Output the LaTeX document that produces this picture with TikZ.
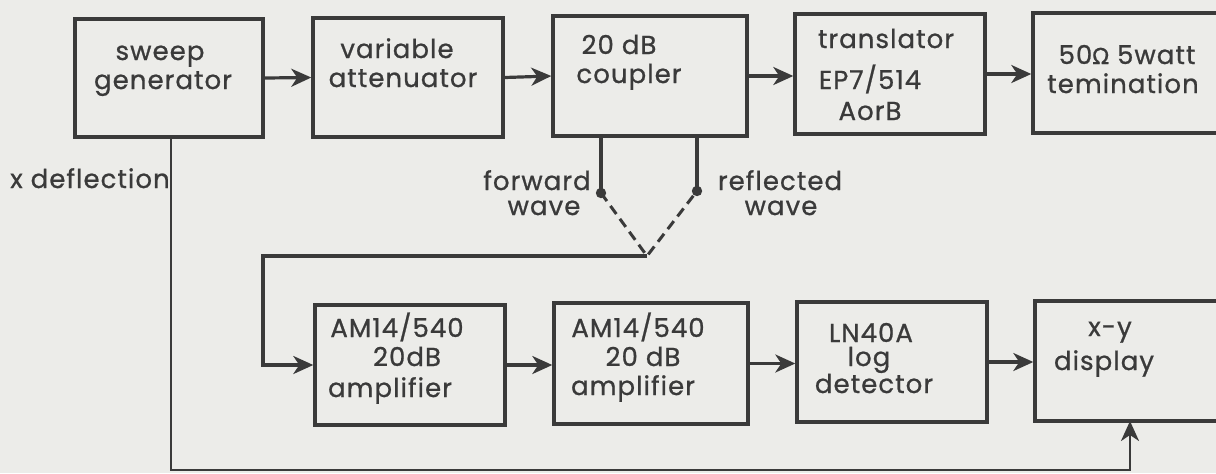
\documentclass[tikz,border=0pt]{standalone}
\usepackage{fontspec}
\setmainfont{Poppins}[LetterSpace=4.0,FakeBold=0.8]
\newfontfamily\omegafont{DejaVu Sans}[FakeBold=0.8]
\usetikzlibrary{arrows.meta}
\definecolor{paper}{RGB}{236,236,233}
\definecolor{ink}{RGB}{58,58,58}
\tikzset{
  blk/.style 2 args={draw=ink,line width=1.7pt,inner sep=0pt,minimum width=#1,minimum height=#2},
  txt/.style={anchor=base,inner sep=0pt,text=ink,font=\fontsize{13}{15}\selectfont},
  conn/.style={draw=ink,line width=1.6pt,-{Stealth[length=10pt,width=9pt,inset=3pt]}},
  wire/.style={draw=ink,line width=1.6pt},
  thinwire/.style={draw=ink,line width=1.3pt},
  dashwire/.style={draw=ink,line width=1.5pt,dash pattern=on 5pt off 3pt},
}
\begin{document}
\begin{tikzpicture}[x=0.5pt,y=-0.5pt]
\useasboundingbox (0,0) rectangle (1216,473);
\clip (0,0) rectangle (1216,473);
\fill[paper] (0,0) rectangle (1216,473);

% boxes
\node[blk={94pt}{59pt}]   (sweep)   at (169,78) {};
\node[blk={95pt}{59.5pt}] (atten)   at (408,77.5) {};
\node[blk={97pt}{60pt}]   (coupler) at (650,76) {};
\node[blk={95pt}{60pt}]   (trans)   at (890,74) {};
\node[blk={104pt}{60pt}]  (term)    at (1137,73) {};
\node[blk={95pt}{60pt}]   (amp1)    at (410,365) {};
\node[blk={97pt}{60.5pt}] (amp2)    at (651,363.5) {};
\node[blk={95pt}{60pt}]   (logdet)  at (892,362) {};
\node[blk={103pt}{60pt}]  (xy)      at (1138,361) {};

% texts
\node[txt] (t1a) at (160,60) {sweep};
\node[txt] (t1b) at (163,89) {generator};
\node[txt] (t2a) at (397,58) {variable};
\node[txt] (t2b) at (403,87) {attenuator};
\node[txt] (t3a) at (619,54) {20 dB};
\node[txt] (t3b) at (629,83) {coupler};
\node[txt] (t4a) at (886,48) {translator};
\node[txt] (t4b) at (870,89) {EP7/514};
\node[txt] (t4c) at (870,120) {AorB};
\node[txt] (t5a) at (1127,64) {50{\omegafont\fontsize{11}{13}\selectfont Ω} 5watt};
\node[txt] (t5b) at (1123,93) {temination};
\node[txt] (t6a) at (397,337) {AM14/540};
\node[txt] (t6b) at (407,366) {20dB};
\node[txt] (t6c) at (390,397) {amplifier};
\node[txt] (t7a) at (638,337) {AM14/540};
\node[txt] (t7b) at (643,366) {20 dB};
\node[txt] (t7c) at (633,395) {amplifier};
\node[txt] (t8a) at (871,342) {LN40A};
\node[txt] (t8b) at (869,366) {log};
\node[txt] (t8c) at (874,393) {detector};
\node[txt] (t9a) at (1110,336) {x-y};
\node[txt] (t9b) at (1104,370) {display};
\node[txt] (xdef) at (90,188) {x deflection};
\node[txt] (fw1) at (537,190) {forward};
\node[txt] (fw2) at (544,215) {wave};
\node[txt] (rf1) at (780,190) {reflected};
\node[txt] (rf2) at (781,215) {wave};

% top chain
\draw[conn] (sweep.east) -- (atten.west);
\draw[conn] (atten.east) -- (coupler.west);
\draw[conn] (coupler.east) -- (coupler.east -| trans.west);
\draw[conn] (trans.east) -- (trans.east -| term.west);

% coupler taps
\coordinate (fwd) at (601,193);
\coordinate (refl) at (697,191);
\coordinate (apex) at (647,256);
\coordinate (turn) at (263,256);
\draw[wire] (coupler.south -| fwd) -- (fwd);
\draw[wire] (coupler.south -| refl) -- (refl);
\fill[ink] (fwd) circle (2.6pt);
\fill[ink] (refl) circle (2.6pt);
\draw[dashwire] (fwd) -- (apex) -- (refl);
\draw[conn] (apex) -- (turn) |- (amp1.west);

% bottom chain
\draw[conn] (amp1.east) -- (amp1.east -| amp2.west);
\draw[conn] (amp2.east) -- (amp2.east -| logdet.west);
\draw[conn] (logdet.east) -- (logdet.east -| xy.west);

% x deflection
\coordinate (xtop) at (171,137);
\coordinate (xbot) at (171,470);
\coordinate (xyin) at (1130,421);
\draw[thinwire,-{Stealth[length=10pt,width=9pt,inset=3pt]}] (xtop) -- (xbot) -| (xyin);
\end{tikzpicture}
\end{document}
